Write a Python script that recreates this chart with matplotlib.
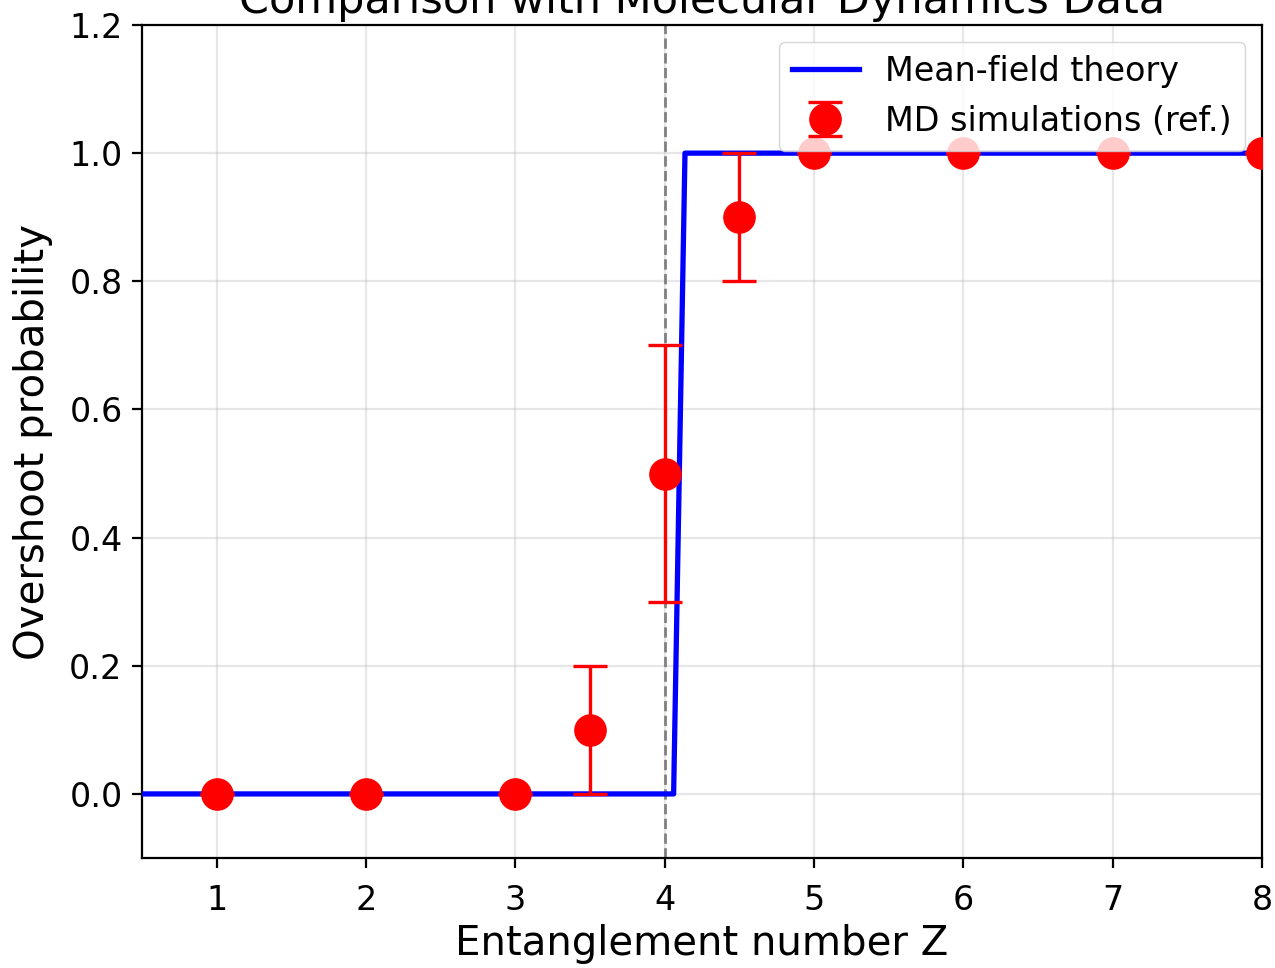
import matplotlib
matplotlib.use("Agg")
import matplotlib.pyplot as plt

# MD simulation data
z_md = [1, 2, 3, 3.5, 4, 4.5, 5, 6, 7, 8]
p_md = [0.0, 0.0, 0.0, 0.1, 0.5, 0.9, 1.0, 1.0, 1.0, 1.0]
err_md = [0.0, 0.0, 0.0, 0.1, 0.2, 0.1, 0.0, 0.0, 0.0, 0.0]

# Mean-field theory step
z_theory = [0.5, 4.06, 4.136, 8.0]
p_theory = [0.0, 0.0, 1.0, 1.0]

z_crit = 4.0
xticks = [1, 2, 3, 4, 5, 6, 7, 8]
yticks = [0.0, 0.2, 0.4, 0.6, 0.8, 1.0, 1.2]

fig = plt.figure(figsize=(12.75, 9.68), dpi=100)
ax = fig.add_axes([142/1275, 1-858/968, (1262-142)/1275, (858-25)/968])

ax.plot(z_theory, p_theory, color='blue', lw=3.8, label='Mean-field theory', zorder=3)
ax.errorbar(z_md, p_md, yerr=err_md, fmt='o', color='red', markersize=22.5,
            capsize=12, elinewidth=2.4, capthick=2.4, label='MD simulations (ref.)', zorder=4)
ax.axvline(z_crit, color='gray', ls='--', lw=2.0, zorder=2)

ax.set_xlim(0.5, 8)
ax.set_ylim(-0.1, 1.2)
ax.set_xticks(xticks)
ax.set_yticks(yticks)
ax.tick_params(labelsize=24, width=1.6, length=7, pad=7)
ax.tick_params(axis='x', pad=12)
for s in ax.spines.values():
    s.set_linewidth(1.6)
ax.grid(True, alpha=0.3, lw=1.6)

ax.set_xlabel('Entanglement number Z', fontsize=29, labelpad=5)
ax.set_ylabel('Overshoot probability', fontsize=29, labelpad=12)
ax.set_title('Comparison with Molecular Dynamics Data', fontsize=31, pad=9)
ax.legend(loc='upper right', fontsize=24)

fig.savefig('out.png', dpi=100)
